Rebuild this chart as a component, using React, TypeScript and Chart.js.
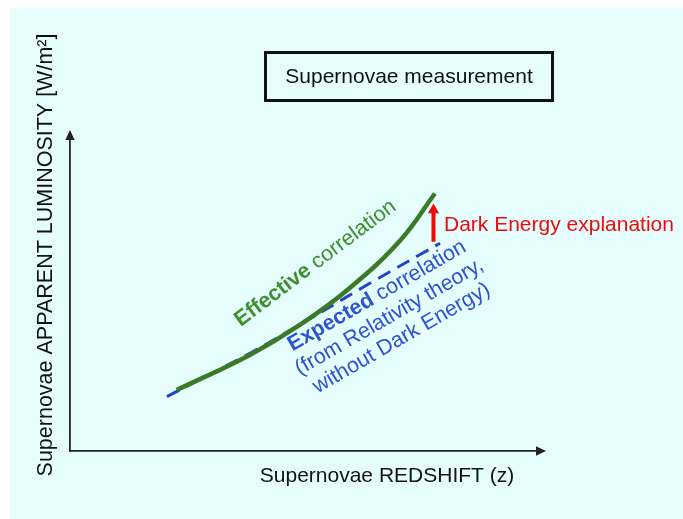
import React, { useEffect, useRef } from "react";
import { Chart, registerables } from "chart.js";

Chart.register(...registerables);

// ---- data (arbitrary units) ----
const effectiveX = [2.29, 3.86, 4.94, 6.01, 7.08, 7.83];
const effectiveY = [1.96, 3.09, 4.06, 5.25, 6.76, 8.28];
const expectedX = [2.08, 3.93, 5.29, 6.5, 7.94];
const expectedY = [1.75, 3.2, 4.38, 5.45, 6.68];
const arrowX = [7.8, 7.8];
const arrowY = [6.73, 7.75];

const titleText = "Supernovae measurement";
const xAxisLabel = "Supernovae REDSHIFT (z)";
const yAxisLabel = "Supernovae APPARENT LUMINOSITY [W/m²]";
const arrowLabel = "Dark Energy explanation";
const effectiveLabel = ["Effective", " correlation"];
const expectedLabel = ["Expected", " correlation", "(from Relativity theory,", "without Dark Energy)"];

const FONT = '"Liberation Sans", Arial, Helvetica, sans-serif';
const GREEN_LINE = "#3b7b27";
const GREEN_TEXT = "#3f8f2c";
const BLUE_LINE = "#2443c9";
const BLUE_TEXT = "#2d52d2";
const RED = "#ee0a0a";
const BG = "#e6fdfd";

type Part = [string, string, string];

function drawRich(ctx: CanvasRenderingContext2D, parts: Part[], cx: number, cy: number, angleDeg: number) {
  ctx.save();
  ctx.translate(cx, cy);
  ctx.rotate((angleDeg * Math.PI) / 180);
  ctx.textAlign = "left";
  ctx.textBaseline = "alphabetic";
  let total = 0;
  const widths: number[] = [];
  for (const [t, f] of parts) {
    ctx.font = f;
    const w = ctx.measureText(t).width;
    widths.push(w);
    total += w;
  }
  let x = -total / 2;
  parts.forEach(([t, f, c], i) => {
    ctx.font = f;
    ctx.fillStyle = c;
    ctx.fillText(t, x, 0);
    x += widths[i];
  });
  ctx.restore();
}

const annotations = {
  id: "annotations",
  beforeDraw(chart: any) {
    const ctx: CanvasRenderingContext2D = chart.ctx;
    ctx.save();
    ctx.fillStyle = "#ffffff";
    ctx.fillRect(0, 0, chart.width, chart.height);
    ctx.fillStyle = BG;
    ctx.fillRect(10, 8, chart.width - 10, chart.height - 8);
    ctx.restore();
  },
  afterDraw(chart: any) {
    const ctx: CanvasRenderingContext2D = chart.ctx;
    const { left, top, right, bottom } = chart.chartArea;
    ctx.save();
    // axis arrowheads
    ctx.fillStyle = "#222";
    ctx.beginPath();
    ctx.moveTo(right + 10, bottom);
    ctx.lineTo(right, bottom - 4.7);
    ctx.lineTo(right, bottom + 4.7);
    ctx.closePath();
    ctx.fill();
    ctx.beginPath();
    ctx.moveTo(left, top - 10);
    ctx.lineTo(left - 4.7, top);
    ctx.lineTo(left + 4.7, top);
    ctx.closePath();
    ctx.fill();

    // title box
    ctx.strokeStyle = "#111";
    ctx.lineWidth = 3;
    ctx.strokeRect(265.5, 52.5, 287, 48);
    ctx.fillStyle = "#111";
    ctx.font = `21px ${FONT}`;
    ctx.textAlign = "center";
    ctx.textBaseline = "alphabetic";
    ctx.fillText(titleText, 409, 83);

    // axis labels
    ctx.fillText(xAxisLabel, 387, 482);
    ctx.save();
    ctx.translate(52, 255);
    ctx.rotate(-Math.PI / 2);
    ctx.font = `21.5px ${FONT}`;
    ctx.fillText(yAxisLabel, 0, 0);
    ctx.restore();

    // dark energy label
    ctx.fillStyle = RED;
    ctx.textAlign = "left";
    ctx.fillText(arrowLabel, 444, 231);
    ctx.restore();

    // effective correlation label
    drawRich(
      ctx,
      [
        [effectiveLabel[0], `bold 21.5px ${FONT}`, GREEN_TEXT],
        [effectiveLabel[1], `21.5px ${FONT}`, GREEN_TEXT],
      ],
      319,
      268,
      -37
    );

    // expected correlation label block
    const ang = -30;
    const rad = (ang * Math.PI) / 180;
    const nx = -Math.sin(rad);
    const ny = Math.cos(rad);
    const cx0 = 380;
    const cy0 = 301;
    const lh = 24.5;
    drawRich(
      ctx,
      [
        [expectedLabel[0], `bold 21.5px ${FONT}`, BLUE_TEXT],
        [expectedLabel[1], `21.5px ${FONT}`, BLUE_TEXT],
      ],
      cx0,
      cy0,
      ang
    );
    drawRich(ctx, [[expectedLabel[2], `21.5px ${FONT}`, BLUE_TEXT]], cx0 + nx * lh, cy0 + ny * lh, ang);
    drawRich(ctx, [[expectedLabel[3], `21.5px ${FONT}`, BLUE_TEXT]], cx0 + nx * lh * 2, cy0 + ny * lh * 2, ang);
  },
};

export default function App() {
  const ref = useRef<HTMLCanvasElement>(null);
  useEffect(() => {
    const canvas = ref.current!;
    const chart = new Chart(canvas, {
      type: "scatter",
      data: {
        datasets: [
          {
            label: "arrow",
            data: arrowX.map((x, i) => ({ x, y: arrowY[i] })),
            showLine: true,
            borderColor: RED,
            backgroundColor: RED,
            borderWidth: 4,
            pointRadius: [0, 6.5],
            pointStyle: "triangle",
            pointBorderWidth: 0,
            clip: false,
          } as any,
          {
            label: "Effective correlation",
            data: effectiveX.map((x, i) => ({ x, y: effectiveY[i] })),
            showLine: true,
            borderColor: GREEN_LINE,
            borderWidth: 4.5,
            pointRadius: 0,
            tension: 0.4,
            borderCapStyle: "butt",
            clip: false,
          } as any,
          {
            label: "Expected correlation",
            data: expectedX.map((x, i) => ({ x, y: expectedY[i] })),
            showLine: true,
            borderColor: BLUE_LINE,
            borderWidth: 3,
            borderDash: [14, 8],
            pointRadius: 0,
            tension: 0.4,
            clip: false,
          } as any,
        ],
      },
      options: {
        animation: false,
        responsive: false,
        maintainAspectRatio: false,
        events: [],
        layout: { padding: { left: 70, top: 140, right: 147, bottom: 68 } },
        plugins: { legend: { display: false }, tooltip: { enabled: false }, title: { display: false } },
        scales: {
          x: {
            type: "linear",
            min: 0,
            max: 10,
            grid: { display: false, drawTicks: false },
            ticks: { display: false },
            border: { display: true, color: "#222", width: 1.8 },
          },
          y: {
            type: "linear",
            min: 0,
            max: 10,
            grid: { display: false, drawTicks: false },
            ticks: { display: false },
            border: { display: true, color: "#222", width: 1.8 },
          },
        },
      },
      plugins: [annotations],
    });
    return () => chart.destroy();
  }, []);
  return (
    <div style={{ position: "absolute", left: 0, top: 0, width: 683, height: 519 }}>
      <canvas ref={ref} width={683} height={519} style={{ display: "block", width: 683, height: 519 }} />
    </div>
  );
}
